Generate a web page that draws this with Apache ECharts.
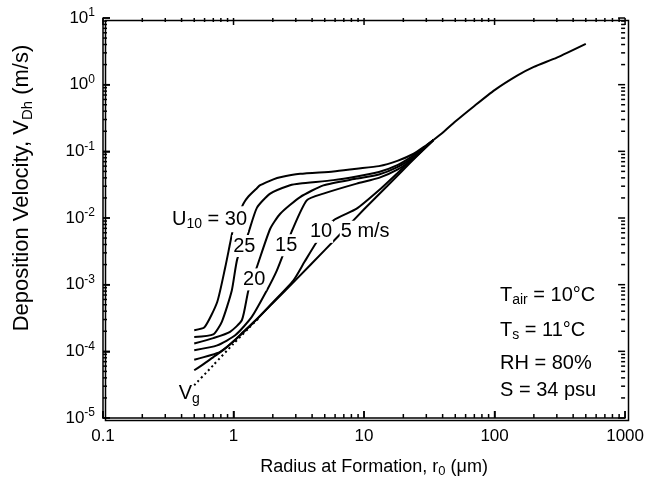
<!DOCTYPE html>
<html>
<head>
<meta charset="utf-8">
<script src="https://cdn.jsdelivr.net/npm/echarts@6/dist/echarts.min.js"></script>
<style>
  html, body { margin: 0; padding: 0; background: #fff; }
  #main { width: 647px; height: 489px; }
</style>
</head>
<body>
<div id="main"></div>
<script>
// deposition velocity vs radius at formation, log-log
const xTickLabels = ['0.1', '1', '10', '100', '1000'];
const yTickExp = ['-5', '-4', '-3', '-2', '-1', '0', '1'];

// gravitational settling Vg (dotted)
const vgX = [0.5, 0.7, 1.0, 1.3, 1.6];
const vgY = [3.1e-5, 6.2e-5, 1.3e-4, 2.2e-4, 3.3e-4];

// common part for large drops
const tailX = [34, 40, 50, 70, 100, 150, 200, 300, 500];
const tailY = [0.148, 0.19, 0.28, 0.48, 0.83, 1.38, 1.85, 2.55, 4.1];

// U10 = 30 m/s
const u30X = [0.5, 0.6, 0.75, 0.865, 0.94, 1.0, 1.1, 1.19, 1.3, 1.51, 1.6, 2.02, 2.28, 3.24, 5.82, 8.78, 13, 18, 24, 29, 34];
const u30Y = [2.07e-4, 2.3e-4, 5.5e-4, 1.84e-3, 4.1e-3, 7.3e-3, 0.0115, 0.0164, 0.021, 0.028, 0.031, 0.038, 0.041, 0.046, 0.05, 0.055, 0.06, 0.072, 0.092, 0.118, 0.148];
// U10 = 25 m/s
const u25X = [0.5, 0.7, 0.815, 0.97, 1.07, 1.27, 1.51, 1.91, 2.71, 3.24, 5.82, 8.78, 13, 18, 24, 29, 34];
const u25Y = [1.64e-4, 1.79e-4, 2.8e-4, 8.2e-4, 2.46e-3, 5.2e-3, 0.0142, 0.0232, 0.031, 0.033, 0.037, 0.042, 0.049, 0.062, 0.087, 0.115, 0.148];
// U10 = 20 m/s
const u20X = [0.5, 0.7, 0.94, 1.16, 1.3, 1.51, 1.91, 2.28, 3.24, 4.88, 8.78, 13, 18, 24, 29, 34];
const u20Y = [1.31e-4, 1.58e-4, 1.96e-4, 2.95e-4, 8.2e-4, 1.84e-3, 6.9e-3, 0.0116, 0.0206, 0.0309, 0.039, 0.045, 0.058, 0.082, 0.112, 0.148];
// U10 = 15 m/s
const u15X = [0.5, 0.75, 1.03, 1.38, 1.8, 2.15, 2.5, 2.81, 3.64, 4.88, 8.78, 13, 18, 24, 29, 34];
const u15Y = [1.04e-4, 1.23e-4, 1.74e-4, 3.28e-4, 8.2e-4, 1.64e-3, 3.5e-3, 6.5e-3, 0.0184, 0.0232, 0.0328, 0.04, 0.053, 0.078, 0.11, 0.148];
// U10 = 10 m/s
const u10X = [0.5, 0.79, 1.09, 1.5, 2.0, 2.88, 3.5, 4.34, 5.82, 8.78, 13, 18, 24, 29, 34];
const u10Y = [7.5e-5, 9.8e-5, 1.64e-4, 3.0e-4, 5.4e-4, 1.16e-3, 2.2e-3, 4.37e-3, 9.2e-3, 0.0138, 0.026, 0.047, 0.08, 0.113, 0.148];
// U10 = 5 m/s
const u5X = [0.5, 0.6, 0.7, 0.85, 1.0, 1.2, 1.5, 2, 3, 5, 7, 10, 15, 20, 25, 30, 34];
const u5Y = [5.2e-5, 6.6e-5, 8.2e-5, 1.08e-4, 1.42e-4, 2.0e-4, 3.0e-4, 5.3e-4, 1.18e-3, 3.3e-3, 6.5e-3, 0.0135, 0.03, 0.053, 0.082, 0.116, 0.148];

// curve labels
const curveLabelText = ['U{sub|10} = 30', '25', '20', '15', '10', '5 m/s', 'V{sub|g}'];
const curveLabelX = [0.655, 1.21, 1.44, 2.53, 4.68, 10.2, 0.458];
const curveLabelY = [9.6e-3, 3.8e-3, 1.2e-3, 3.9e-3, 6.2e-3, 6.2e-3, 2.3e-5];

// conditions
const condText = ['T{sub|air} = 10°C', 'T{sub|s} = 11°C', 'RH = 80%', 'S = 34 psu'];

const L = Math.log10;
const pts = (xs, ys) => xs.map((x, i) => [L(x), L(ys[i])]);
const font = "'Liberation Sans', Arial, sans-serif";

// tick positions (log10 space): decades and 2..9 in between
const xMajor = [-1, 0, 1, 2, 3], yMajor = [-5, -4, -3, -2, -1, 0, 1];
const xMinor = [], yMinor = [];
for (let n = -1; n < 3; n++) for (let k = 2; k < 10; k++) xMinor.push(L(k) + n);
for (let n = -5; n < 1; n++) for (let k = 2; k < 10; k++) yMinor.push(L(k) + n);

// [value, 0 = x tick / 1 = y tick, length in px]
const tickData = [];
xMajor.forEach(v => tickData.push([v, 0, 7]));
xMinor.forEach(v => tickData.push([v, 0, 4]));
yMajor.forEach(v => tickData.push([v, 1, 7]));
yMinor.forEach(v => tickData.push([v, 1, 4]));

// inward ticks on all four sides
function renderTick(params, api) {
  const v = api.value(0), isY = api.value(1) === 1, len = api.value(2);
  const st = { stroke: '#000', lineWidth: 1.5 };
  let a, b, l1, l2;
  if (!isY) {
    a = api.coord([v, -5]); b = api.coord([v, 1]);
    l1 = { x1: a[0], y1: a[1], x2: a[0], y2: a[1] - len };
    l2 = { x1: b[0], y1: b[1], x2: b[0], y2: b[1] + len };
  } else {
    a = api.coord([-1, v]); b = api.coord([3, v]);
    l1 = { x1: a[0], y1: a[1], x2: a[0] + len, y2: a[1] };
    l2 = { x1: b[0], y1: b[1], x2: b[0] - len, y2: b[1] };
  }
  return { type: 'group', children: [
    { type: 'line', shape: l1, style: st },
    { type: 'line', shape: l2, style: st }
  ] };
}

function curve(name, xs, ys, dotted) {
  return {
    name: name, type: 'line', data: pts(xs, ys),
    symbol: 'none', smooth: 0.2, z: 2,
    lineStyle: { color: '#000', width: 2, type: dotted ? [2, 3] : 'solid' }
  };
}

const labelData = curveLabelX.map((x, i) => ({
  value: [L(x), L(curveLabelY[i])],
  label: i === 6 ? { backgroundColor: 'transparent' } : {}
}));

const option = {
  animation: false,
  backgroundColor: '#fff',
  grid: { left: 103, right: 21, top: 18, bottom: 71 },
  xAxis: {
    type: 'value', min: -1, max: 3, interval: 1,
    axisLine: { show: true, onZero: false, lineStyle: { color: '#000', width: 1.5 } },
    axisTick: { show: true, inside: true, length: 7, lineStyle: { color: '#000', width: 1.5 } },
    splitLine: { show: false },
    axisLabel: { show: true, margin: 10, fontSize: 17, color: '#000', fontFamily: font,
      formatter: v => xTickLabels[Math.round(v) + 1] },
    name: 'Radius at Formation, r{sub|0} (μm)', nameLocation: 'middle', nameGap: 38,
    nameTextStyle: { fontSize: 18, color: '#000', fontFamily: font, padding: [0, 0, 0, 20],
      rich: { sub: { fontSize: 13, fontFamily: font, color: '#000', padding: [9, 0, 0, 0] } } }
  },
  yAxis: {
    type: 'value', min: -5, max: 1, interval: 1,
    axisLine: { show: true, onZero: false, lineStyle: { color: '#000', width: 1.5 } },
    axisTick: { show: true, inside: true, length: 7, lineStyle: { color: '#000', width: 1.5 } },
    splitLine: { show: false },
    axisLabel: { show: true, margin: 8, color: '#000', fontFamily: font,
      formatter: v => '{b|10}{e|' + yTickExp[Math.round(v) + 5] + '}',
      rich: {
        b: { fontSize: 17, fontFamily: font, color: '#000' },
        e: { fontSize: 12, fontFamily: font, color: '#000', padding: [0, 0, 10, 0] }
      } },
    name: 'Deposition Velocity, V{sub|Dh} (m/s)', nameLocation: 'middle', nameGap: 68, nameRotate: 90,
    nameTextStyle: { fontSize: 22, color: '#000', fontFamily: font, padding: [0, 0, 0, 60],
      rich: { sub: { fontSize: 15, fontFamily: font, color: '#000', padding: [11, 0, 0, 0] } } }
  },
  series: [
    curve('Vg', vgX, vgY, true),
    curve('5', u5X, u5Y),
    curve('10', u10X, u10Y),
    curve('15', u15X, u15Y),
    curve('20', u20X, u20Y),
    curve('25', u25X, u25Y),
    curve('30', u30X, u30Y),
    curve('tail', tailX, tailY),
    {
      name: 'ticks', type: 'custom', silent: true, zlevel: 1, z: 10, clip: false,
      encode: { x: 0, y: 1 },
      data: tickData, renderItem: renderTick
    },
    {
      name: 'labels', type: 'scatter', symbolSize: 1, z: 5, silent: true,
      itemStyle: { color: 'rgba(0,0,0,0)', opacity: 1 },
      data: labelData,
      label: {
        show: true, position: 'inside', color: '#000', fontSize: 20, fontFamily: font,
        backgroundColor: '#fff', padding: [1, 1],
        formatter: p => curveLabelText[p.dataIndex],
        rich: { sub: { fontSize: 14, fontFamily: font, color: '#000', padding: [10, 0, 0, 0] } }
      }
    }
  ],
  graphic: [
    // top and right frame lines follow the grid
    { type: 'rect', left: 103, top: 18, shape: { width: 523, height: 400 }, silent: true, z: 0,
      style: { fill: 'none', stroke: '#000', lineWidth: 1.5 } }
  ].concat(condText.map((t, i) => ({
    type: 'text', left: 500, top: [285, 320, 353, 380][i], z: 10,
    style: {
      text: t, fill: '#000', font: '20px ' + font,
      rich: { sub: { fontSize: 14, fontFamily: font, fill: '#000', padding: [10, 0, 0, 0] } }
    }
  })))
};

const chart = echarts.init(document.getElementById('main'));
chart.setOption(option);
</script>
</body>
</html>
